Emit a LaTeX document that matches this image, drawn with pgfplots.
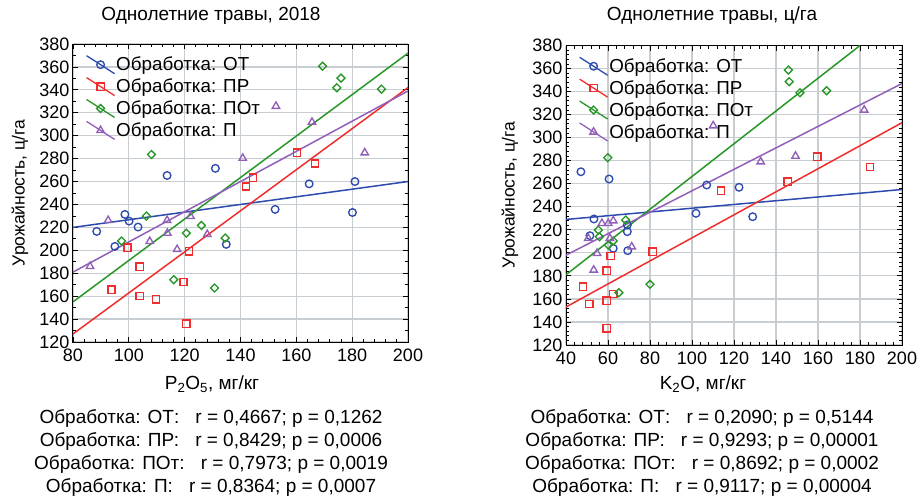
\documentclass[border=0pt]{standalone}
\usepackage{pgfplots}
\pgfplotsset{compat=1.18}
\usepackage{fontspec}
\setmainfont{Liberation Sans}
\definecolor{cBlue}{RGB}{45,75,175}
\definecolor{cRed}{RGB}{240,45,45}
\definecolor{cGreen}{RGB}{40,150,40}
\definecolor{cPurple}{RGB}{145,95,185}
\definecolor{cGrid}{RGB}{200,205,210}
\pgfplotsset{
  myaxis/.style={
    scale only axis, anchor=north west,
    grid=major, major grid style={color=cGrid, line width=1.2pt},
    axis line style={line width=1pt, black},
    every tick/.style={black, line width=0.8pt},
    major tick length=5pt, minor tick length=3pt,
    tick label style={font=\fontsize{18}{20}\selectfont},
    xticklabel style={yshift=-3pt},
    /pgf/number format/assume math mode=true,
    ymin=120, ymax=380, ytick={120,140,...,380},
    legend style={at={(0.035,0.967)}, anchor=north west, draw=none, fill=none,
      font=\fontsize{18.8}{21}\selectfont, row sep=2.6pt, inner sep=1pt,
      nodes={inner sep=1pt},
      /tikz/every even column/.append style={column sep=3pt}},
    legend cell align=left,
    legend image code/.code={
      \draw[#1, mark=none, line width=1.3pt] (0pt,9pt) -- (28pt,-9pt);
      \draw[#1] plot coordinates {(14pt,0pt)};
    },
  },
  sOT/.style={only marks, mark=o, mark size=3.8pt, cBlue, mark options={line width=1.35pt}},
  sPR/.style={only marks, mark=square, mark size=3.6pt, cRed, mark options={line width=1.35pt}},
  sPOt/.style={only marks, mark=square, mark size=2.8pt, cGreen, mark options={line width=1.35pt, rotate=45}},
  sP/.style={only marks, mark=triangle, mark size=4.3pt, cPurple, mark options={line width=1.35pt}},
  lOT/.style={no marks, cBlue, line width=1.5pt, forget plot},
  lPR/.style={no marks, cRed, line width=1.5pt, forget plot},
  lPOt/.style={no marks, cGreen, line width=1.5pt, forget plot},
  lP/.style={no marks, cPurple, line width=1.5pt, forget plot},
}
\begin{document}
\begin{tikzpicture}[x=1pt,y=1pt]
\useasboundingbox (0,0) rectangle (919,-496);
% ---------------- left panel ----------------
\begin{axis}[myaxis, at={(73pt,-44pt)}, width=335pt, height=298pt,
  xmin=80, xmax=200, xtick={80,100,...,200}, minor x tick num=4, minor y tick num=1]
\addplot[lOT] coordinates {(80,220) (200,260)};
\addplot[lPR] coordinates {(80,127) (200,342)};
\addplot[lPOt] coordinates {(80,155) (200,372)};
\addplot[lP] coordinates {(80,181) (200,339)};
\addplot[sOT] coordinates {(88.5,216.5) (98.6,231.3) (100.1,225.5) (103.3,220.3) (95,203.4) (113.7,265.3) (134.9,205.2) (131,271.5) (164.6,258) (181,260) (152.4,235.7) (180.1,233)};
\addlegendentry{Обработка: ОТ}
\addplot[sPR] coordinates {(99.5,202.3) (103.9,185.7) (93.8,165.7) (103.9,160.1) (109.8,157.2) (119.6,172.3) (121.5,199.1) (120.6,136) (142,255.7) (144.4,263.3) (160.2,285.1) (166.7,275.8)};
\addlegendentry{Обработка: ПР}
\addplot[sPOt] coordinates {(108.1,283.6) (97.4,208.1) (106.3,229.9) (116.1,174.4) (120.6,215) (126,221.7) (130.7,167.1) (134.5,210.7) (169.4,360.6) (176,350.2) (174.5,341.8) (190.5,340.6)};
\addlegendentry{Обработка: ПОт}
\addplot[sP] coordinates {(140.8,280.4) (152.7,325.7) (165.6,311.8) (184.5,285.1) (86.1,186) (92.6,226.1) (107.5,207.8) (113.7,226.1) (113.8,215) (117.3,200.8) (122.1,229.6) (128.1,213.9)};
\addlegendentry{Обработка: П}
\end{axis}
% ---------------- right panel ----------------
\begin{axis}[myaxis, at={(566pt,-45.5pt)}, width=336pt, height=299.5pt,
  xmin=40, xmax=200, xtick={40,60,...,200}, minor x tick num=4, minor y tick num=4]
\addplot[lOT] coordinates {(40,229) (200,255)};
\addplot[lPR] coordinates {(40,153) (200,313)};
\addplot[lPOt] coordinates {(40,181) (180,380)};
\addplot[lP] coordinates {(40,198) (200,347)};
\addplot[sOT] coordinates {(47.1,270.4) (60.5,264.1) (107,258.9) (53.3,229.4) (51.4,214.9) (62.5,203.9) (69.2,224.2) (69.2,218.4) (69.4,201.9) (101.9,234.3) (122.4,256.9) (128.9,231.4)};
\addlegendentry{Обработка: ОТ}
\addplot[sPR] coordinates {(48.2,170.6) (51.1,155.6) (59.4,158.5) (59.4,134.5) (59.4,184.5) (61.3,197.3) (62.5,164.3) (81.3,201) (113.8,254) (159.7,283.5) (184.8,274.5) (145.6,261.8)};
\addlegendentry{Обработка: ПР}
\addplot[sPOt] coordinates {(59.9,282.6) (55.4,219.8) (55.9,214) (60.1,206.8) (62.5,210.3) (68.4,228.5) (65.2,165.4) (80,172.7) (145.9,358.7) (146.3,348.6) (151.4,339) (164.1,340.7)};
\addlegendentry{Обработка: ПОт}
\addplot[sP] coordinates {(110.1,310.4) (50.6,212.6) (57.1,225.6) (60.1,225.6) (62.5,227.9) (60.9,212.6) (71.3,205.3) (54.8,199.6) (53.2,185.1) (132.7,279.1) (149.3,284) (182,324)};
\addlegendentry{Обработка: П}
\end{axis}
% ---------------- texts ----------------
\node[font=\fontsize{19}{22}\selectfont] at (211,-16) {Однолетние травы, 2018};
\node[font=\fontsize{19}{22}\selectfont] at (712,-16) {Однолетние травы, ц/га};
\node[font=\fontsize{17.5}{20}\selectfont, rotate=90] at (20,-193) {Урожайность, ц/га};
\node[font=\fontsize{17.5}{20}\selectfont, rotate=90] at (510,-195) {Урожайность, ц/га};
\node[font=\fontsize{19}{22}\selectfont] at (212,-384) {P\textsubscript{2}O\textsubscript{5}, мг/кг};
\node[font=\fontsize{19}{22}\selectfont] at (703,-384) {K\textsubscript{2}O, мг/кг};
\node[font=\fontsize{19}{23}\selectfont, align=center, inner sep=0pt] at (211,-453)
 {Обработка: ОТ:\hspace{0.85em}r = 0,4667; p = 0,1262\\
  Обработка: ПР:\hspace{0.85em}r = 0,8429; p = 0,0006\\
  Обработка: ПОт:\hspace{0.85em}r = 0,7973; p = 0,0019\\
  Обработка: П:\hspace{0.85em}r = 0,8364; p = 0,0007};
\node[font=\fontsize{19}{23}\selectfont, align=center, inner sep=0pt] at (702,-453)
 {Обработка: ОТ:\hspace{0.85em}r = 0,2090; p = 0,5144\\
  Обработка: ПР:\hspace{0.85em}r = 0,9293; p = 0,00001\\
  Обработка: ПОт:\hspace{0.85em}r = 0,8692; p = 0,0002\\
  Обработка: П:\hspace{0.85em}r = 0,9117; p = 0,00004};
\end{tikzpicture}
\end{document}
